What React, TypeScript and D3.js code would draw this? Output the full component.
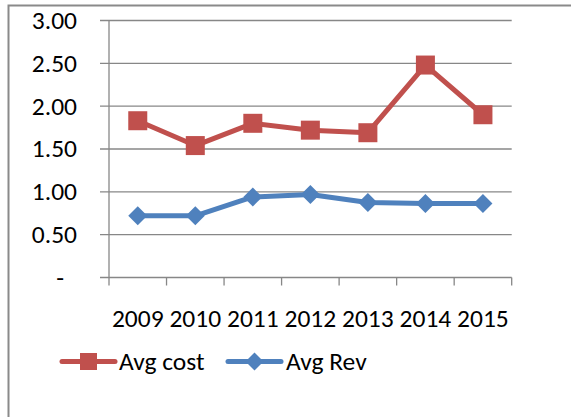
import React from "react";
import * as d3 from "d3";

const years = ["2009", "2010", "2011", "2012", "2013", "2014", "2015"];
const avgCost = [1.83, 1.54, 1.8, 1.72, 1.69, 2.48, 1.9];
const avgRev = [0.72, 0.72, 0.94, 0.97, 0.875, 0.865, 0.865];
const yTicks = [0, 0.5, 1, 1.5, 2, 2.5, 3];
const yTickLabels = ["-", "0.50", "1.00", "1.50", "2.00", "2.50", "3.00"];

const RED = "#C0504D";
const BLUE = "#4F81BD";
const GRID = "#878787";
const FONT = "Carlito, Calibri, 'Open Sans', sans-serif";
const FS = 25.5;

export default function App() {
  const W = 571, H = 417;
  const x0 = 109, x1 = 511.7, yTop = 20.5, yBot = 277.5;
  const x = d3.scaleBand<string>().domain(years).range([x0, x1]).padding(0);
  const y = d3.scaleLinear().domain([0, 3]).range([yBot, yTop]);
  const cx = (d: string) => (x(d) as number) + x.bandwidth() / 2;

  const line = d3.line<number>().x((_, i) => cx(years[i])).y((v) => y(v));
  const sq = 19;
  const dia = (px: number, py: number, r: number) =>
    `M${px},${py - r}L${px + r},${py}L${px},${py + r}L${px - r},${py}Z`;

  const tickPositions = [...years.map((d) => x(d) as number), x1];

  return (
    <svg width={W} height={H} style={{ position: "absolute", left: 0, top: 0 }} fontFamily={FONT}>
      <rect x={0} y={0} width={W} height={H} fill="#fff" />
      {/* outer chart border */}
      <path d={`M8.5,${H}V5.5H${W}`} fill="none" stroke="#8a8a8a" strokeWidth={2} />
      {/* gridlines & y ticks */}
      {yTicks.map((t, i) => (
        <g key={t}>
          <line x1={100} x2={x1} y1={y(t)} y2={y(t)} stroke={GRID} strokeWidth={1.3} />
          <text
            x={i === 0 ? 64 : 77}
            y={y(t)}
            dy="0.33em"
            textAnchor="end"
            fontSize={FS}
            fill="#000"
          >
            {yTickLabels[i]}
          </text>
        </g>
      ))}
      {/* y axis */}
      <line x1={x0} x2={x0} y1={yTop} y2={yBot} stroke={GRID} strokeWidth={1.3} />
      {/* x ticks */}
      {tickPositions.map((p, i) => (
        <line key={i} x1={p} x2={p} y1={yBot} y2={yBot + 8} stroke={GRID} strokeWidth={1.3} />
      ))}
      {years.map((d) => (
        <text key={d} x={cx(d)} y={326.5} textAnchor="middle" fontSize={FS} fill="#000">
          {d}
        </text>
      ))}
      {/* series */}
      <path d={line(avgRev) as string} fill="none" stroke={BLUE} strokeWidth={5} strokeLinejoin="round" />
      {avgRev.map((v, i) => (
        <path key={i} d={dia(cx(years[i]), y(v), 9.5)} fill={BLUE} />
      ))}
      <path d={line(avgCost) as string} fill="none" stroke={RED} strokeWidth={5} strokeLinejoin="round" />
      {avgCost.map((v, i) => (
        <rect key={i} x={cx(years[i]) - sq / 2} y={y(v) - sq / 2} width={sq} height={sq} fill={RED} />
      ))}
      {/* legend */}
      <line x1={62} x2={115} y1={361.5} y2={361.5} stroke={RED} strokeWidth={5} strokeLinecap="round" />
      <rect x={88.5 - 8.5} y={361.5 - 8.5} width={17} height={17} fill={RED} />
      <text x={119} y={369.5} fontSize={FS} fill="#000">Avg cost</text>
      <line x1={228} x2={281} y1={361.5} y2={361.5} stroke={BLUE} strokeWidth={5} strokeLinecap="round" />
      <path d={dia(254.5, 361.5, 9)} fill={BLUE} />
      <text x={286} y={369.5} fontSize={FS} fill="#000">Avg Rev</text>
    </svg>
  );
}
